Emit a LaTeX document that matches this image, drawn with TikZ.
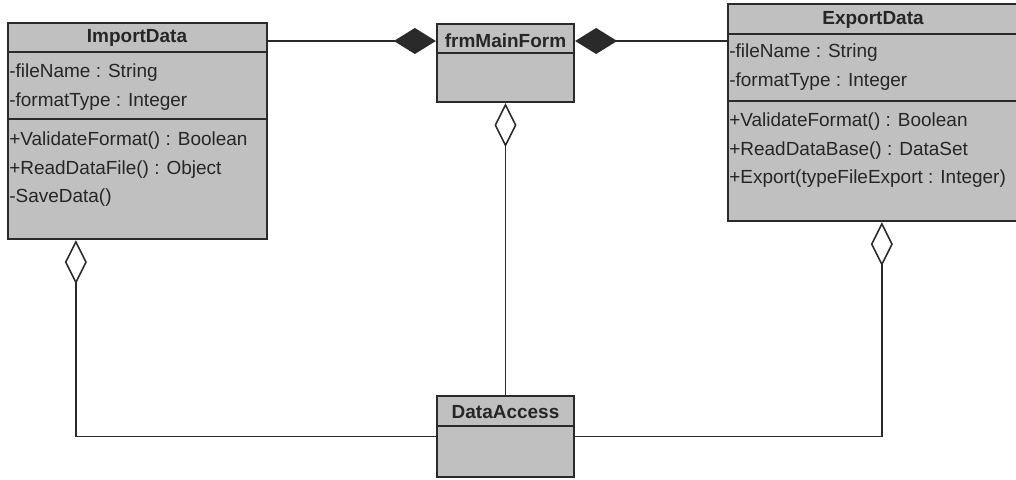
\documentclass[tikz,border=0pt]{standalone}
\usepackage{fontspec}
\setmainfont{Liberation Sans}
\usetikzlibrary{arrows.meta,positioning,fit,calc}
\definecolor{umlfill}{HTML}{C0C0C0}
\definecolor{umlline}{HTML}{2A2A2A}
\tikzset{
  cls/.style={draw=umlline,fill=umlfill,line width=1.6pt,inner sep=0pt},
  ttl/.style={font=\fontsize{13.5}{16}\selectfont\bfseries,inner sep=0pt,text=black!85},
  mem/.style={font=\fontsize{13.5}{16}\selectfont,anchor=west,inner sep=0pt,text=black!85},
  sep/.style={umlline,line width=1.6pt},
  comp/.style={{Diamond[length=10.5mm,width=6.5mm,fill=umlline]}-,line width=1.1pt,umlline},
  agg/.style={{Diamond[open,length=11mm,width=5.5mm,fill=white]}-,line width=1.1pt,umlline},
}
\begin{document}
\begin{tikzpicture}[x=0.025cm,y=-0.025cm]
    \clip (0,0) rectangle (1016,479);
    % class boxes
    \node[cls,fit={(8,23) (267,239)}] (imp) {};
    \node[cls,fit={(437,24) (574,102)}] (frm) {};
    \node[cls,fit={(728,4) (1020,221)}] (exp) {};
    \node[cls,fit={(437,396) (574,477)}] (da) {};
    \draw[sep] (imp.west |- 0,52) -- (imp.east |- 0,52);
    \draw[sep] (imp.west |- 0,119) -- (imp.east |- 0,119);
    \draw[sep] (frm.west |- 0,53) -- (frm.east |- 0,53);
    \draw[sep] (exp.west |- 0,34) -- (exp.east |- 0,34);
    \draw[sep] (exp.west |- 0,101) -- (exp.east |- 0,101);
    \draw[sep] (da.west |- 0,426) -- (da.east |- 0,426);
    % names
    \node[ttl] (imp-t) at (137,38) {ImportData};
    \node[ttl] (frm-t) at (505.5,41) {frmMainForm};
    \node[ttl] (exp-t) at (873,20) {ExportData};
    \node[ttl] (da-t) at (505.5,412) {DataAccess};
    % members
    \foreach \t [count=\j] in {-fileName : String,-formatType : Integer}
      {\node[mem] (imp-a\j) at (9,{73+(\j-1)*28.5}) {\t};}
    \foreach \t [count=\j] in {+ValidateFormat() : Boolean,+ReadDataFile() : Object,-SaveData()}
      {\node[mem] (imp-o\j) at (9,{141+(\j-1)*28.5}) {\t};}
    \foreach \t [count=\j] in {-fileName : String,-formatType : Integer}
      {\node[mem] (exp-a\j) at (729,{53+(\j-1)*28.5}) {\t};}
    \foreach \t [count=\j] in {+ValidateFormat() : Boolean,+ReadDataBase() : DataSet,+Export(typeFileExport : Integer)}
      {\node[mem] (exp-o\j) at (729,{122+(\j-1)*28.5}) {\t};}
    % relations
    \draw[comp] (frm.west |- frm-t) -- (imp.east |- frm-t);
    \draw[comp] (frm.east |- frm-t) -- (exp.west |- frm-t);
    \draw[agg] (frm.south) -- (da.north);
    \draw[agg] ($(imp.south west)+(69,0)$) |- (da.west);
    \draw[agg] ($(exp.south west)+(155,0)$) |- (da.east);
\end{tikzpicture}
\end{document}
